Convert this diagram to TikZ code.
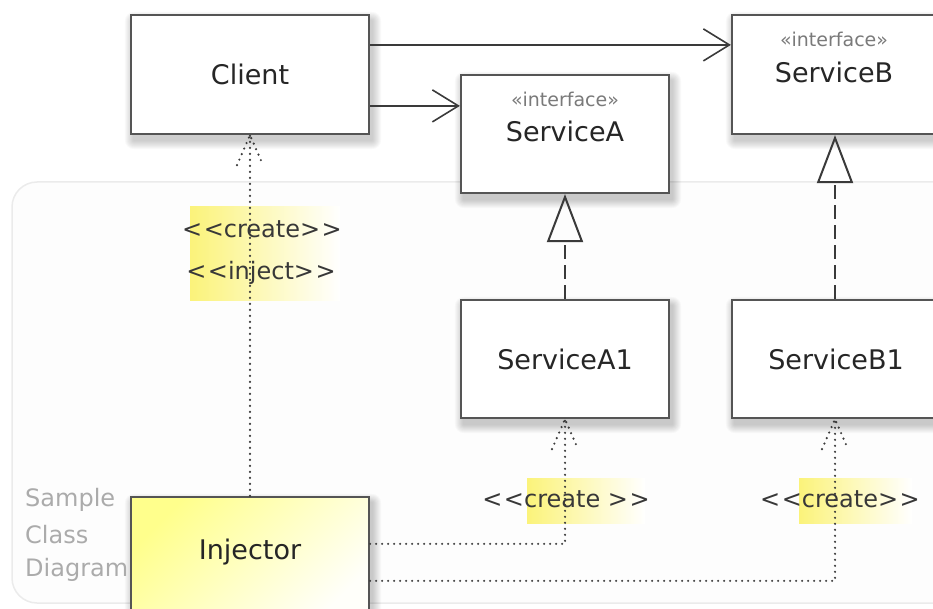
\documentclass[tikz,border=0pt]{standalone}
\usepackage{fontspec}
\setmainfont{DejaVu Sans}
\usetikzlibrary{arrows.meta,calc,backgrounds}

\definecolor{boxline}{HTML}{555555}
\definecolor{linedark}{HTML}{3A3A3A}
\definecolor{labelyellow}{HTML}{FBF37A}
\definecolor{frameline}{HTML}{EBEBEB}
\definecolor{framefill}{HTML}{FDFDFD}
\definecolor{captiongray}{HTML}{ABABAB}
\definecolor{stereogray}{HTML}{7A7A7A}

\tikzset{
  classbox/.style={draw=boxline, line width=2.2pt, fill=white, rectangle, inner sep=0pt},
  classname/.style={font=\fontsize{27}{30}\selectfont, text=black!85, inner sep=0pt},
  stereo/.style={font=\fontsize{19}{21}\selectfont, text=stereogray, inner sep=0pt},
  assoc/.style={draw=linedark, line width=2pt,
    -{Straight Barb[length=26pt,width=32pt,line width=1.6pt]}},
  realize/.style={draw=linedark, line width=2pt, dash pattern=on 14pt off 6pt,
    -{Triangle[open,length=48pt,width=36pt,line width=2pt]}},
  dep/.style={draw=linedark, line width=2.4pt, dash pattern=on 0pt off 6pt, line cap=round},
  deplabel/.style={font=\fontsize{24}{26}\selectfont, text=black!78, inner sep=0pt},
  caption/.style={font=\fontsize{24}{26}\selectfont, text=captiongray, inner sep=0pt, anchor=west},
  shadowlayer/.style={fill=black, opacity=0.022},
}

% open arrowhead drawn with the dotted dependency stroke
\newcommand\deptip[1]{\draw[dep] ($(#1)+(-13,30)$) -- (#1) -- ($(#1)+(13,30)$);}

\begin{document}
\begin{tikzpicture}[x=1pt,y=-1pt]
\useasboundingbox (0,0) rectangle (933,609);

% caption of the diagram frame
\node[caption] (capsample) at (25,500) {Sample};
\node[caption] (capclass) at (25,535) {Class};
\node[caption] (capdiagram) at (25,570) {Diagram};

% classes
\node[classbox, minimum width=238pt, minimum height=119pt] (client) at (250,74.5) {};
\node[classname] (clientname) at (client.center) {Client};

\node[classbox, minimum width=208pt, minimum height=118pt] (sa) at (565,134) {};
\node[stereo] (sastereo) at (565,99) {«interface»};
\node[classname] (saname) at (565,131) {ServiceA};

\node[classbox, minimum width=206pt, minimum height=119pt] (sb) at (835,74.5) {};
\node[stereo] (sbstereo) at (834,39) {«interface»};
\node[classname] (sbname) at (834,72) {ServiceB};

\node[classbox, minimum width=208pt, minimum height=118pt] (sa1) at (565,359) {};
\node[classname] (sa1name) at (sa1.center) {ServiceA1};

\node[classbox, minimum width=206pt, minimum height=118pt] (sb1) at (835,359) {};
\node[classname] (sb1name) at (836,359) {ServiceB1};

\node[classbox, top color=yellow!45, bottom color=yellow!2, shading angle=45,
      minimum width=238pt, minimum height=124pt] (inj) at (250,559) {};
\node[classname] (injname) at (250,552) {Injector};

% frame and soft box shadows, behind everything else
\begin{scope}[on background layer]
  \draw[frameline, line width=1.5pt, fill=framefill, rounded corners=25pt]
    (12,182) rectangle (980,603);
  \foreach \n in {client,sa,sb,sa1,sb1,inj}
    \foreach \r in {1,...,9}
      \fill[shadowlayer, rounded corners=\r pt]
        ($(\n.north west)+(4-\r,7-\r)$) rectangle ($(\n.south east)+(2+\r,5+\r)$);
\end{scope}

% associations
\draw[assoc] ([yshift=-31pt]client.north east) -- ([yshift=-31pt]sb.north west);
\coordinate (saIn) at ([yshift=-32pt]sa.north west);
\draw[assoc] (saIn -| client.east) -- (saIn);

% realizations
\draw[realize] (sa1.north) -- (sa.south);
\draw[realize] (sb1.north) -- (sb.south);

% dependency labels
\fill[left color=labelyellow, right color=white] (190,207) rectangle (340,300);
\fill[left color=labelyellow, right color=white] (527,478) rectangle (645,523);
\fill[left color=labelyellow, right color=white] (799,478) rectangle (912,523);
\node[deplabel] (lblcreate) at (262,229) {<\kern1.5pt<create>\kern1.5pt>};
\node[deplabel] (lblinject) at (261,273) {<\kern1.5pt<inject>\kern1.5pt>};
\node[deplabel] (lblcreatea) at (566,499) {<\kern1.5pt<create >\kern1.5pt>};
\node[deplabel] (lblcreateb) at (840,499) {<\kern1.5pt<create>\kern1.5pt>};

% dependencies
\draw[dep] (inj.north) -- (client.south);
\deptip{client.south}
\coordinate (injA) at ([yshift=-48pt]inj.north east);
\draw[dep] (injA) -| (sa1.south);
\deptip{sa1.south}
\coordinate (injB) at ([yshift=-85pt]inj.north east);
\draw[dep] (injB) -| (sb1.south);
\deptip{sb1.south}
\end{tikzpicture}
\end{document}
